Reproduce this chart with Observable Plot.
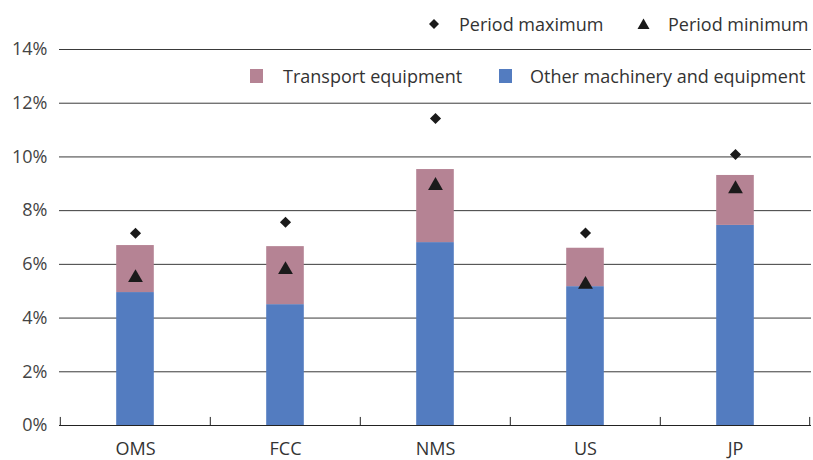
<!DOCTYPE html>
<html>
<head>
<meta charset="utf-8">
<script src="https://cdn.jsdelivr.net/npm/d3@7"></script>
<script src="https://cdn.jsdelivr.net/npm/@observablehq/plot@0.6"></script>
<style>
  html, body { margin: 0; padding: 0; background: #fff; }
  #wrap { position: relative; width: 813px; height: 460px; font-family: "Open Sans", sans-serif; overflow: hidden; }
  .leg { position: absolute; font-size: 18px; color: #333; white-space: nowrap; display: flex; align-items: center; line-height: 24px; }
  .leg svg { display: block; }
</style>
</head>
<body>
<div id="wrap"></div>
<script>
const categories = ["OMS", "FCC", "NMS", "US", "JP"];
const otherMachinery = [4.95, 4.50, 6.81, 5.17, 7.45];
const transportEquipment = [1.75, 2.16, 2.72, 1.43, 1.86];
const periodMaximum = [7.16, 7.57, 11.43, 7.17, 10.09];
const periodMinimum = [5.50, 5.80, 8.93, 5.25, 8.81];
const yTicks = [0, 2, 4, 6, 8, 10, 12, 14];
const seriesNames = ["Other machinery and equipment", "Transport equipment"];
const seriesColors = ["#537cc0", "#b58394"];

const stacked = [];
categories.forEach((c, i) => {
  stacked.push({cat: c, series: seriesNames[0], value: otherMachinery[i]});
  stacked.push({cat: c, series: seriesNames[1], value: transportEquipment[i]});
});
const points = categories.map((c, i) => ({cat: c, max: periodMaximum[i], min: periodMinimum[i]}));

const W = 813, H = 460, ml = 59, mr = 2, mt = 49, mb = 35;
const step = (W - ml - mr) / categories.length;
const barInset = (step - 38) / 2;
const tickLen = 0.3; // short axis tick height in y units

const chart = Plot.plot({
  width: W, height: H,
  marginLeft: ml, marginRight: mr, marginTop: mt, marginBottom: mb,
  style: {fontFamily: "Open Sans, sans-serif", background: "#fff"},
  x: {domain: categories, padding: 0, label: null},
  y: {domain: [0, 14], label: null},
  color: {domain: seriesNames, range: seriesColors},
  marks: [
    Plot.ruleY(yTicks.filter(d => d > 0), {stroke: "#3a3a3a", strokeWidth: 1}),
    Plot.barY(stacked, Plot.stackY({x: "cat", y: "value", fill: "series", order: seriesNames, insetLeft: barInset, insetRight: barInset})),
    Plot.ruleY([0], {stroke: "#222", strokeWidth: 1.2}),
    Plot.ruleX(categories, {x: d => d, dx: -step / 2, y1: 0, y2: tickLen, stroke: "#222"}),
    Plot.ruleX(categories.slice(-1), {x: d => d, dx: step / 2 - 1, y1: 0, y2: tickLen, stroke: "#222"}),
    Plot.dot(points, {x: "cat", y: "max", symbol: "diamond2", r: 5, fill: "#1a1a1a", stroke: "none"}),
    Plot.dot(points, {x: "cat", y: "min", symbol: "triangle", r: 5.5, fill: "#1a1a1a", stroke: "none"}),
    Plot.axisY({ticks: yTicks, tickSize: 0, tickPadding: 12, tickFormat: d => d + "%", fontSize: 18, fill: "#444"}),
    Plot.axisX({tickSize: 0, tickPadding: 17, fontSize: 18, fill: "#333"})
  ]
});
const wrap = document.getElementById("wrap");
wrap.appendChild(chart);

function legendItem(left, top, shapeSvg, label, gap) {
  const d = document.createElement("div");
  d.className = "leg";
  d.style.left = left + "px";
  d.style.top = top + "px";
  d.innerHTML = shapeSvg + `<span style="margin-left:${gap}px">${label}</span>`;
  wrap.appendChild(d);
}
const diamondSvg = `<svg width="12" height="12" viewBox="-6 -6 12 12"><path d="M0,-5L5,0L0,5L-5,0Z" fill="#1a1a1a"/></svg>`;
const triSvg = `<svg width="13" height="12" viewBox="-6.5 -6 13 12"><path d="M0,-5.5L6,5L-6,5Z" fill="#1a1a1a"/></svg>`;
const sq = c => `<svg width="13" height="14"><rect width="13" height="14" fill="${c}"/></svg>`;
legendItem(428, 12, diamondSvg, "Period maximum", 19);
legendItem(637, 12, triSvg, "Period minimum", 18);
legendItem(250, 64, sq(seriesColors[1]), "Transport equipment", 20);
legendItem(499, 64, sq(seriesColors[0]), "Other machinery and equipment", 18);
</script>
</body>
</html>
